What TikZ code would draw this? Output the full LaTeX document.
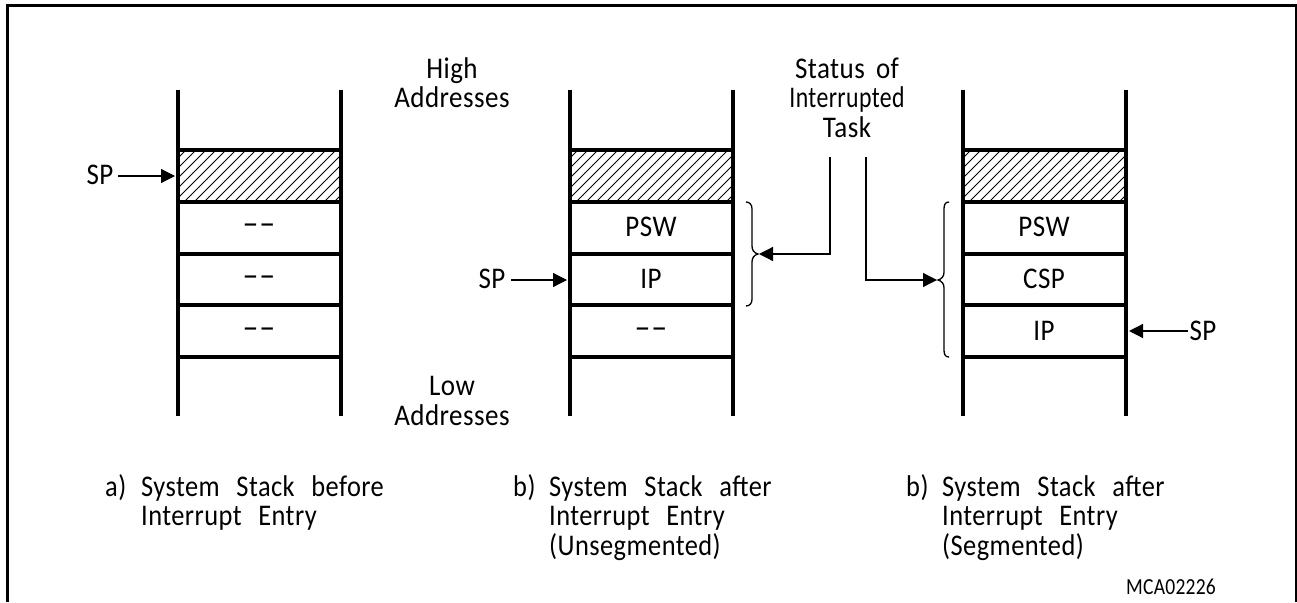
\documentclass[tikz,border=0pt]{standalone}
\usepackage{fontspec}
\setmainfont[FakeStretch=0.9,LetterSpace=1.5,WordSpace=1.7]{Carlito}
\newfontfamily\capfont[FakeStretch=0.88,LetterSpace=1.5,WordSpace=2.6]{Carlito}
\newfontfamily\codefont[FakeStretch=0.85,LetterSpace=1]{Carlito}
\usetikzlibrary{arrows.meta}
\tikzset{
  x=1pt,y=-1pt,
  frameline/.style={line width=3pt},
  stackline/.style={line width=3.6pt},
  hatchline/.style={line width=0.8pt},
  thinline/.style={line width=1.3pt},
  arrowline/.style={line width=1.3pt,-{Triangle[length=14pt,width=14pt]}},
  lbl/.style={inner sep=0pt,anchor=base,font=\fontsize{30}{32}\selectfont},
  dashlbl/.style={inner sep=0pt,font=\fontsize{30}{32}\selectfont},
  small/.style={inner sep=0pt,font=\codefont\fontsize{23}{25}\selectfont},
  capt/.style={inner sep=0pt,align=left,anchor=north west,font=\capfont\fontsize{30}{29.5}\selectfont},
}
\newcommand{\dashcell}{\scalebox{1.8}[1]{-\kern1pt-}}
\newcommand{\hang}[1]{\makebox[36pt][l]{#1}}
\newcommand{\stackbody}[1]{%
  \begin{scope}
    \clip (#1,150) rectangle (#1+163,202);
    \foreach \k in {0,...,22} {
      \draw[hatchline] (#1-54+\k*10,202) -- (#1-2+\k*10,150);
    }
  \end{scope}
  \draw[stackline] (#1,90) -- (#1,416);
  \draw[stackline] (#1+163,90) -- (#1+163,416);
  \foreach \yy in {150,202,254,305,357} {
    \draw[stackline] (#1,\yy) -- (#1+163,\yy);
  }
}
\begin{document}
\begin{tikzpicture}
\useasboundingbox (0,0) rectangle (1297,602);
\draw[frameline] (7,602) -- (7,5.5) -- (1296,5.5) -- (1296,602);
\stackbody{178}
\stackbody{570}
\stackbody{963}

% stack a
\node[dashlbl] (a1) at (259,229) {\dashcell};
\node[dashlbl] (a2) at (259,281) {\dashcell};
\node[dashlbl] (a3) at (259,333) {\dashcell};
\node[lbl] (spa) at (100,184.5) {SP};
\coordinate (spastart) at (118,176);
\coordinate (spaend) at (175,176);
\draw[arrowline] (spastart) -- (spaend);

% stack b
\node[lbl] (b1) at (651,236.5) {PSW};
\node[lbl] (b2) at (651,288.5) {IP};
\node[dashlbl] (b3) at (651,333) {\dashcell};
\node[lbl] (spb) at (492,288.5) {SP};
\coordinate (spbstart) at (511,280);
\coordinate (spbend) at (567,280);
\draw[arrowline] (spbstart) -- (spbend);

% stack c
\node[lbl] (c1) at (1044,236.5) {PSW};
\node[lbl] (c2) at (1044,288.5) {CSP};
\node[lbl] (c3) at (1044,340.5) {IP};
\node[lbl] (spc) at (1203,340.5) {SP};
\coordinate (spcstart) at (1188,331);
\coordinate (spcend) at (1129,331);
\draw[arrowline] (spcstart) -- (spcend);

% side labels
\node[lbl] (high) at (452,78.5) {High};
\node[lbl] (haddr) at (452,107.5) {Addresses};
\node[lbl] (low) at (452,395.5) {Low};
\node[lbl] (laddr) at (452,425.5) {Addresses};
\node[lbl] (st1) at (847,78.5) {Status of};
\node[lbl] (st2) at (847,107.5) {\scalebox{0.88}[1]{Interrupted}};
\node[lbl] (st3) at (847,137.5) {Task};

% braces
\draw[thinline] (746,202) .. controls (750,202) and (752,205) .. (752,209) -- (752,246)
  .. controls (752,250) and (754,253) .. (758,254) .. controls (754,255) and (752,258) .. (752,262)
  -- (752,299) .. controls (752,303) and (750,306) .. (746,306);
\draw[thinline] (949,202) .. controls (945,202) and (944,205) .. (944,209) -- (944,272)
  .. controls (944,276) and (942,279) .. (938,280) .. controls (942,281) and (944,284) .. (944,288)
  -- (944,350) .. controls (944,354) and (945,357) .. (949,357);

% connectors
\coordinate (t1) at (830,157);
\coordinate (t1end) at (759,254);
\draw[arrowline] (t1) |- (t1end);
\coordinate (t2) at (866,157);
\coordinate (t2end) at (937,280);
\draw[arrowline] (t2) |- (t2end);

% captions
\node[capt] (ca) at (105,474) {\hang{a)}System Stack before\\\hang{}Interrupt Entry};
\node[capt] (cb) at (513,474) {\hang{b)}System Stack after\\\hang{}Interrupt Entry\\\hang{}(Unsegmented)};
\node[capt] (cc) at (906,474) {\hang{b)}System Stack after\\\hang{}Interrupt Entry\\\hang{}(Segmented)};
\node[small,anchor=east] (code) at (1216,587) {MCA02226};
\end{tikzpicture}
\end{document}
